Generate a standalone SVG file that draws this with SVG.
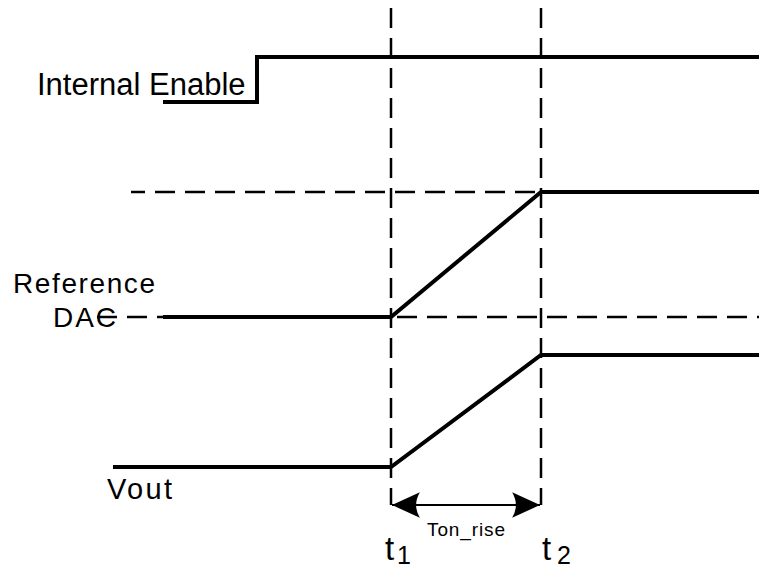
<svg xmlns="http://www.w3.org/2000/svg" width="759" height="569" viewBox="0 0 759 569">
<style>
.sig{fill:none;stroke:#000;stroke-width:4;stroke-linejoin:miter;stroke-linecap:butt}
.dash{fill:none;stroke:#000;stroke-width:2.5;stroke-dasharray:20 10}
.lbl{font-family:"Liberation Sans",Arial,sans-serif;fill:#000}
</style>
<defs>
<marker id="ah" markerUnits="userSpaceOnUse" markerWidth="30" markerHeight="30" viewBox="-27 -13 28 26" refX="0" refY="0" orient="auto-start-reverse">
<path d="M0,0 L-26,-12 Q-19,0 -26,12 Z" fill="#000"/>
</marker>
</defs>
<rect width="759" height="569" fill="#fff"/>
<g id="connectors">
<path class="dash" d="M391 8 V505"/>
<path class="dash" d="M541 8 V505"/>
<path class="dash" d="M131 192 H541" style="stroke-dashoffset:6"/>
<path class="dash" d="M97 317 H759"/>
<path d="M392 505 H540" fill="none" stroke="#000" stroke-width="2" marker-start="url(#ah)" marker-end="url(#ah)"/>
</g>
<g id="internal-enable">
<path class="sig" d="M163 102 H257 V57 H759"/>
<text class="lbl" x="37" y="95" font-size="31">Internal Enable</text>
</g>
<g id="reference-dac">
<path class="sig" d="M163 317 H391 L541 192 H759"/>
<text class="lbl" x="13" y="293" font-size="28" textLength="142">Reference</text>
<text class="lbl" x="53" y="327" font-size="28" textLength="63">DAC</text>
</g>
<g id="vout">
<path class="sig" d="M113 467 H391 L541 355 H759"/>
<text class="lbl" x="107" y="499" font-size="29" textLength="65">Vout</text>
</g>
<g id="ton-rise">
<text class="lbl" x="427" y="536" font-size="19" textLength="78">Ton_rise</text>
</g>
<g id="t1">
<text class="lbl" x="385" y="560" font-size="33">t</text>
<text class="lbl" x="397" y="564" font-size="25">1</text>
</g>
<g id="t2">
<text class="lbl" x="542" y="560" font-size="33">t</text>
<text class="lbl" x="557" y="564" font-size="25">2</text>
</g>
</svg>
